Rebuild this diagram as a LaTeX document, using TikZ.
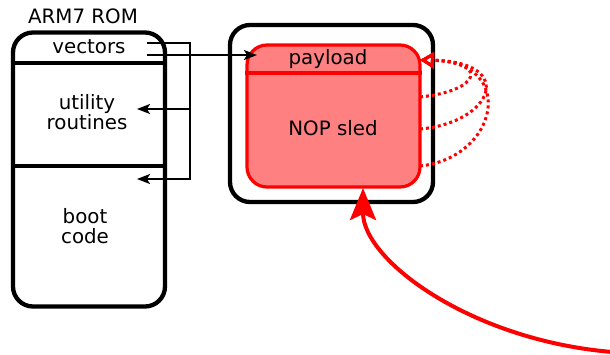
\documentclass[tikz,border=0pt]{standalone}
\usepackage{fontspec}
\setmainfont{DejaVu Sans}
\usetikzlibrary{arrows.meta}
\definecolor{sledfill}{RGB}{255,128,128}
\begin{document}
\begin{tikzpicture}[x=1pt,y=-1pt,
  every node/.style={font=\fontsize{19.8}{20.5}\selectfont, inner sep=0pt, text=black},
  frame/.style={draw=black, line width=4.3pt, rounded corners=20pt},
  rule/.style={draw=black, line width=4.3pt},
  link/.style={draw=black, line width=1.8pt},
  linktip/.style={-{Stealth[length=13pt,width=10pt,inset=3pt]}},
  hot/.style={draw=red, line width=3.2pt},
  loopback/.style={draw=red, line width=3pt, dash pattern=on 3pt off 3pt,
    -{Triangle[open,length=14pt,width=16pt,line width=3pt]}},
  attack/.style={draw=red, line width=4pt,
    -{Stealth[length=32pt,width=26pt,inset=6pt]}},
]
\useasboundingbox (0,0) rectangle (610,354);

% ROM on the left
\node (romtitle) at (83,16) {ARM7 ROM};
\node[frame, minimum width=152pt, minimum height=274pt] (rom) at (89,169.5) {};
\draw[rule] (rom.west |- 0,63) -- (rom.east |- 0,63);
\draw[rule] (rom.west |- 0,166) -- (rom.east |- 0,166);
\node (vec) at (89,47) {vectors};
\node[align=center] (util) at (87,112) {utility\\routines};
\node[align=center] (boot) at (85,226) {boot\\code};

% RAM region holding the payload
\node[frame, minimum width=203pt, minimum height=177pt] (ram) at (331.5,113.5) {};
\node[hot, fill=sledfill, rounded corners=20pt, minimum width=173pt, minimum height=142pt] (sled) at (333.5,116) {};
\draw[hot] (sled.west |- 0,73) -- (sled.east |- 0,73);
\node (pay) at (328,59) {payload};
\node (nop) at (333,128) {NOP sled};

% vector table jumps
\coordinate (vt) at (147,43);
\coordinate (vb) at (147,55);
\coordinate (bus) at (190,43);
\coordinate (ut) at (137,109);
\coordinate (bt) at (137,179);
\coordinate (pin) at (257,55);
\draw[link, linktip] (vt) -- (bus) |- (bt);
\draw[link, linktip] (bus |- ut) -- (ut);
\draw[link, linktip] (vb) -- (pin);

% sled slides into the payload
\coordinate (ptop) at (420,60);
\coordinate (s1) at (420,97);
\coordinate (s2) at (420,129);
\coordinate (s3) at (420,166);
\draw[loopback] (s1) .. controls +(60,-6) and +(70,2) .. (ptop);
\draw[loopback] (s2) .. controls +(72,-6) and +(98,2) .. (ptop);
\draw[loopback] (s3) .. controls +(78,-8) and +(98,2) .. (ptop);

% jump into the sled
\coordinate (entry) at (612,352);
\coordinate (hit) at (363,188);
\draw[attack] (entry) .. controls (470,340) and (363,260) .. (hit);
\end{tikzpicture}
\end{document}
